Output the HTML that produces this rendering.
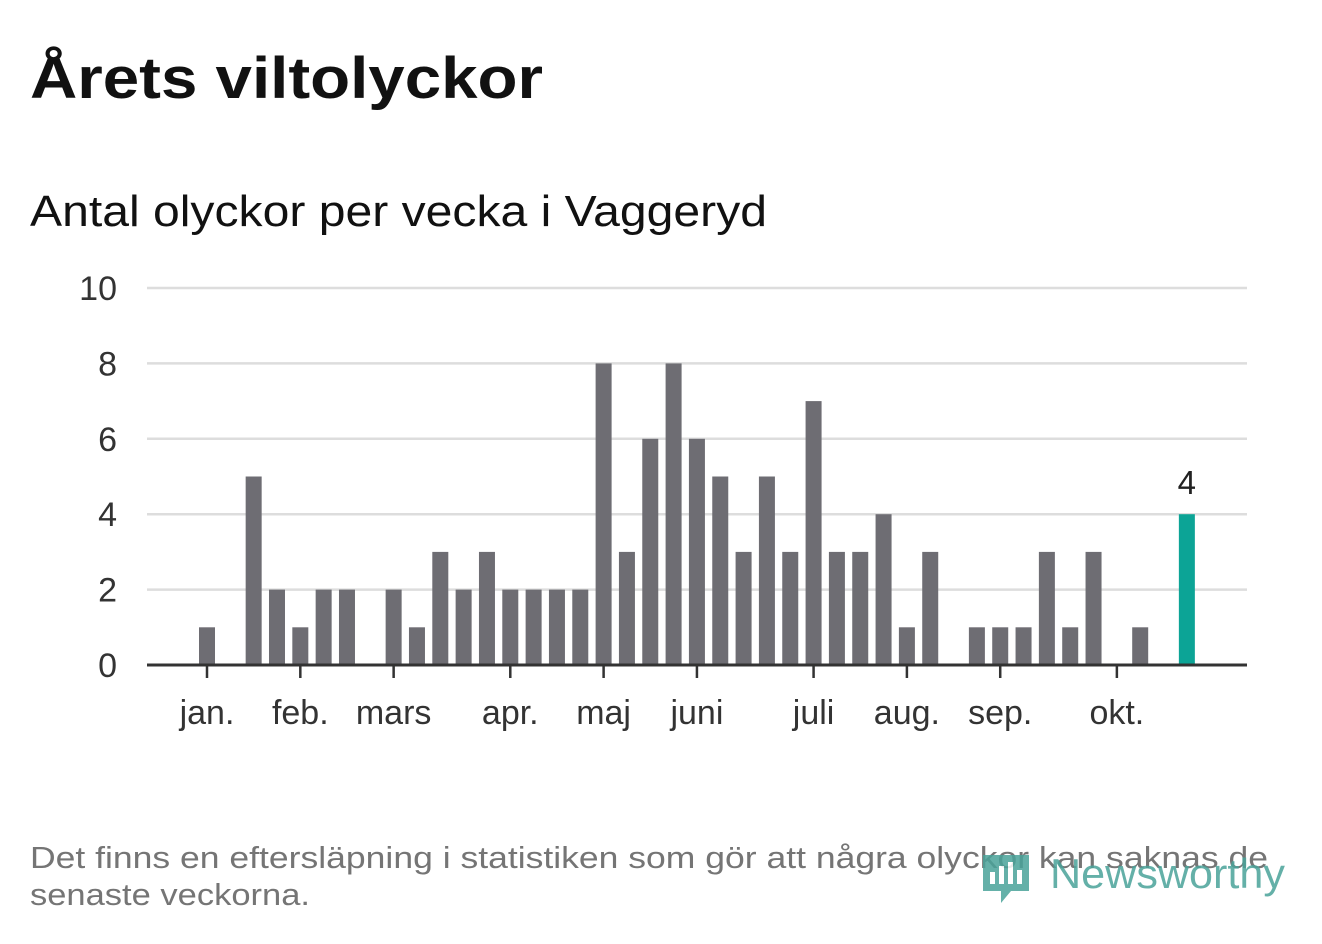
<!DOCTYPE html>
<html><head><meta charset="utf-8"><style>
body{margin:0;background:#fff;width:1322px;height:939px;overflow:hidden;font-family:"Liberation Sans","DejaVu Sans",sans-serif}
</style></head><body>
<svg width="1322" height="939">
<text x="30" y="98" font-size="58" font-weight="bold" fill="#111" textLength="513" lengthAdjust="spacingAndGlyphs">Årets viltolyckor</text>
<text x="30" y="226" font-size="44" fill="#111" textLength="737" lengthAdjust="spacingAndGlyphs">Antal olyckor per vecka i Vaggeryd</text>
<g id="grid"></g><g id="bars"></g><g id="xax"></g>
<text x="30" y="868" font-size="31" fill="#757575" textLength="1238" lengthAdjust="spacingAndGlyphs">Det finns en eftersläpning i statistiken som gör att några olyckor kan saknas de</text>
<text x="30" y="905" font-size="31" fill="#757575" textLength="280" lengthAdjust="spacingAndGlyphs">senaste veckorna.</text>
<g opacity="0.85">
<path d="M983 855h46v36h-18l-10 12v-12h-18z" fill="#4aa39a"/>
<rect x="990" y="872" width="5" height="12" fill="#fff"/><rect x="999" y="866" width="5" height="18" fill="#fff"/><rect x="1008" y="862" width="5" height="22" fill="#fff"/><rect x="1017" y="870" width="5" height="14" fill="#fff"/>
<text x="1050" y="888" font-size="42" fill="#4aa39a" textLength="235" lengthAdjust="spacingAndGlyphs">Newsworthy</text>
</g>
</svg>
<script>
const values=[1,0,5,2,1,2,2,0,2,1,3,2,3,2,2,2,2,8,3,6,8,6,5,3,5,3,7,3,3,4,1,3,0,1,1,1,3,1,3,0,1,0,4];
const yTicks=[0,2,4,6,8,10];
const monthLabels=["jan.","feb.","mars","apr.","maj","juni","juli","aug.","sep.","okt."];
const monthWeeks=[0,4,8,13,17,21,26,30,34,39];
const NS="http://www.w3.org/2000/svg";
const x=i=>207+i*23.33, y=v=>665-v*37.7;
function mk(t,a,p){const e=document.createElementNS(NS,t);for(const k in a)e.setAttribute(k,a[k]);p.appendChild(e);return e;}
const grid=document.getElementById('grid'),bars=document.getElementById('bars'),xax=document.getElementById('xax');
yTicks.forEach(t=>{
 if(t>0){const l=mk('line',{x1:147,x2:1247,y1:y(t),y2:y(t),stroke:'#ddd','stroke-width':2.5},grid);
 
 }
 const tx=mk('text',{x:117,y:y(t)+12,'font-size':34,fill:'#333','text-anchor':'end'},grid);tx.textContent=t;
 
 
});
values.forEach((v,i)=>{
 const last=i===values.length-1;
 const r=mk('rect',{x:x(i)-8,y:y(v),width:16,height:665-y(v),fill:last?'#0ca496':'#6e6d73'},bars);
 
 
 if(last){const t=mk('text',{x:x(i),y:y(v)-20,'font-size':33,fill:'#222','text-anchor':'middle'},bars);t.textContent=v;
 
 }
});
const ax=mk('line',{x1:147,x2:1247,y1:665,y2:665,stroke:'#333','stroke-width':3},xax);


monthLabels.forEach((m,k)=>{
 const xi=x(monthWeeks[k]);
 const tk=mk('line',{x1:xi,x2:xi,y1:665,y2:678,stroke:'#333','stroke-width':2.5},xax);
 
 
 const t=mk('text',{x:xi,y:724,'font-size':34,fill:'#333','text-anchor':'middle'},xax);t.textContent=m;
 
 
});
</script>
</body></html>
